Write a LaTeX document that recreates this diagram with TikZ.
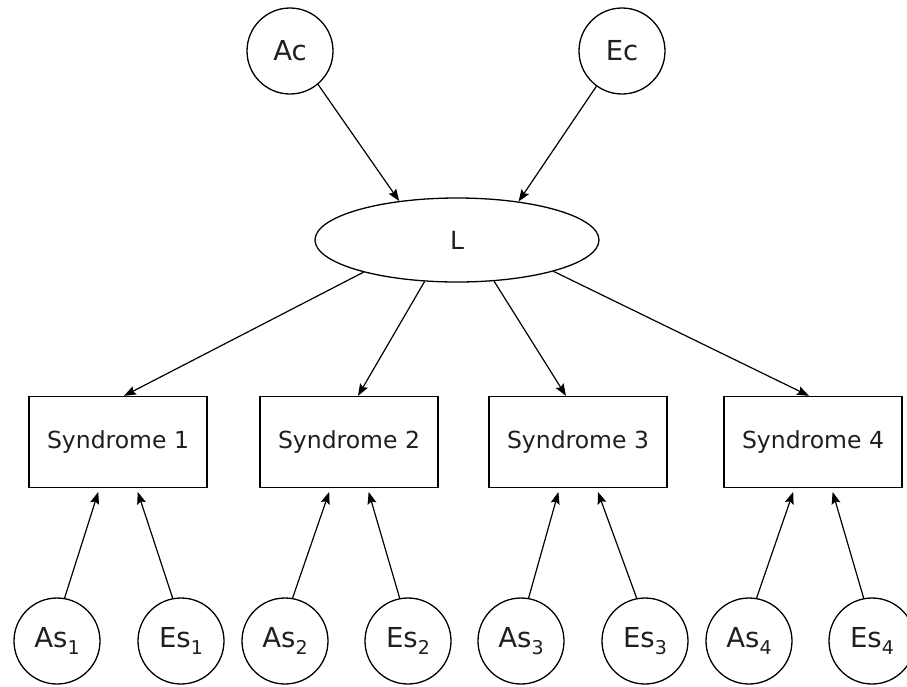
\documentclass[tikz,border=0pt]{standalone}
\usepackage{fontspec}
\setmainfont{DejaVu Sans}
\usetikzlibrary{shapes.geometric,arrows.meta,calc}
\tikzset{
  latent/.style={draw, circle, minimum size=86pt, inner sep=0pt, line width=1.3pt,
    font=\fontsize{27.5}{31}\selectfont, text=black!88},
  bigl/.style={draw, ellipse, minimum width=284pt, minimum height=84pt, inner sep=0pt,
    line width=1.3pt, font=\fontsize{25}{29}\selectfont, text=black!88},
  synbox/.style={draw, rectangle, minimum width=178pt, minimum height=91pt, inner sep=0pt,
    line width=1.3pt, font=\fontsize{23.5}{27}\selectfont, text=black!88},
  conn/.style={line width=1.2pt, -{Stealth[length=12pt,width=9pt,inset=2pt]}},
  upconn/.style={conn, shorten >=4pt}
}
\newcommand{\sbs}[2]{#1\raisebox{-0.28em}{\fontsize{19}{19}\selectfont #2}}
\begin{document}
\begin{tikzpicture}[x=1pt,y=-1pt]
\useasboundingbox (0,0) rectangle (907,686);
\fill[white] (0,0) rectangle (907,686);

\node[latent] (Ac) at (290,51) {Ac};
\node[latent] (Ec) at (622,51) {Ec};
\node[bigl] (L) at (457,240) {L};

\node[synbox] (S1) at (118,442) {Syndrome 1};
\node[synbox] (S2) at (349,442) {Syndrome 2};
\node[synbox] (S3) at (578,442) {Syndrome 3};
\node[synbox] (S4) at (813,442) {Syndrome 4};

\node[latent] (A1) at (57,641) {\sbs{As}{1}};
\node[latent] (E1) at (181,641) {\sbs{Es}{1}};
\node[latent] (A2) at (285,641) {\sbs{As}{2}};
\node[latent] (E2) at (408,641) {\sbs{Es}{2}};
\node[latent] (A3) at (521,641) {\sbs{As}{3}};
\node[latent] (E3) at (645,641) {\sbs{Es}{3}};
\node[latent] (A4) at (749,641) {\sbs{As}{4}};
\node[latent] (E4) at (872,641) {\sbs{Es}{4}};

\draw[conn] (Ac.-50) -- (L.146);
\draw[conn] (Ec.-126) -- (L.32);

\draw[conn] (L.-161) -- ($(S1.north)+(6,0)$);
\draw[conn] (L.-128) -- ($(S2.north)+(9,0)$);
\draw[conn] (L.-48) -- ($(S3.north)+(-12,0)$);
\draw[conn] (L.-18) -- ($(S4.north)+(-4,0)$);

\foreach \i in {1,2,3,4}{
  \draw[upconn] (A\i.80) -- ($(S\i.south)+(-18.5,0)$);
  \draw[upconn] (E\i.101) -- ($(S\i.south)+(18.5,0)$);
}
\end{tikzpicture}
\end{document}
